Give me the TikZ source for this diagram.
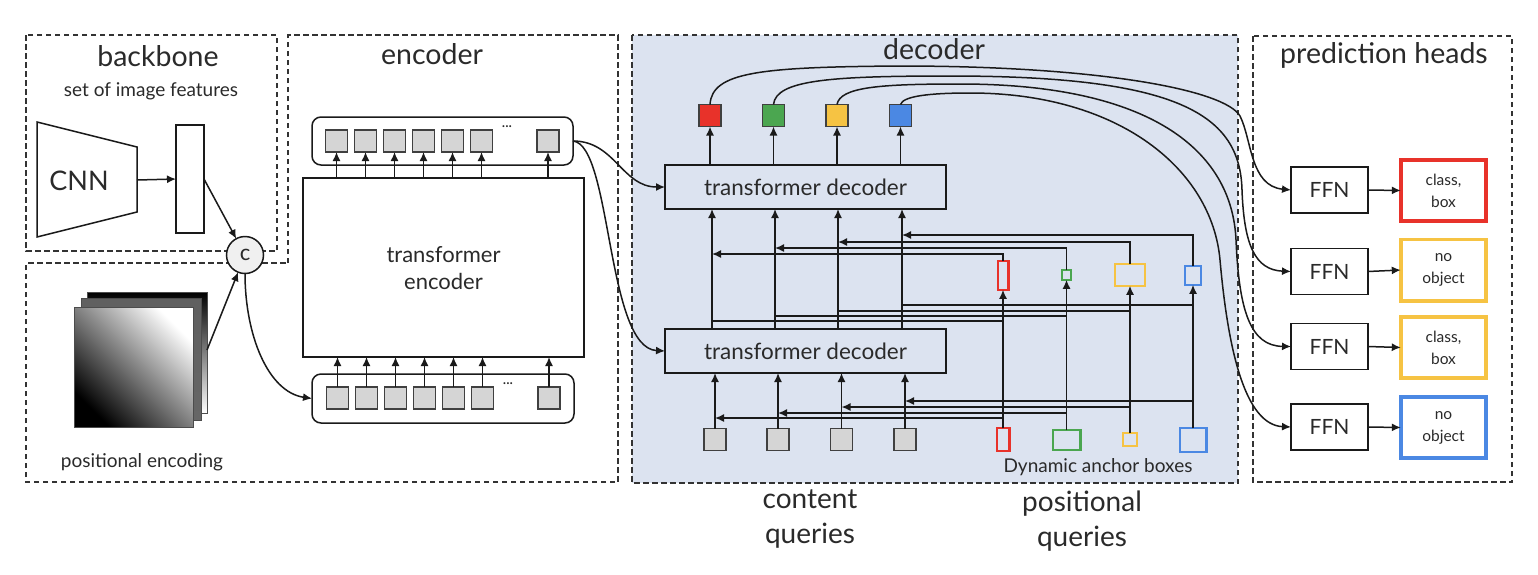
\documentclass[tikz,border=0pt]{standalone}
\usepackage{fontspec}
\setmainfont{Lato}
\usetikzlibrary{arrows.meta,calc}
\definecolor{txt}{HTML}{2A2A2A}
\definecolor{dashc}{HTML}{333333}
\definecolor{decfill}{HTML}{DCE3F0}
\definecolor{qred}{HTML}{E8322A}
\definecolor{qgreen}{HTML}{4BA650}
\definecolor{qyellow}{HTML}{F6C343}
\definecolor{qblue}{HTML}{4B88E3}
\definecolor{tokgray}{HTML}{D5D5D5}
\definecolor{linec}{HTML}{1A1A1A}
\newcommand{\myfs}[1]{\fontsize{#1}{#1}\selectfont}
\begin{document}
\begin{tikzpicture}[x=1pt,y=-1pt,
  every node/.style={text=txt, inner sep=0pt, outer sep=0pt},
  region/.style={draw=dashc, line width=1.4pt, dash pattern=on 5.5pt off 3.5pt},
  ln/.style={draw=linec, line width=1.5pt},
  arr/.style={ln, -{Latex[length=9pt,width=8pt]}},
  box/.style={draw=linec, line width=1.5pt, rectangle},
  tok/.style={draw=black!75, line width=1.2pt, fill=tokgray, minimum width=22pt, minimum height=22pt},
  anc/.style={line width=2.4pt, rectangle},
  head/.style={font=\myfs{28.5}, anchor=base},
  outb/.style={draw, line width=3.6pt, rectangle, minimum width=85.4pt, minimum height=61.4pt, align=center, font=\fontsize{15.5}{22}\selectfont},
  ffn/.style={box, minimum width=77pt, minimum height=46pt, font=\myfs{21}},
  stk/.style={draw=black!70, line width=0.8pt},
]
\useasboundingbox (0,0) rectangle (1538,574);
\fill[white] (0,0) rectangle (1538,574);

% ---------- regions ----------
\draw[region] (26,35) rectangle (277,251);
\draw[region] (288,263) -- (288,35) -- (618,35) -- (618,482) -- (26,482) -- (26,263) -- cycle;
\draw[region, fill=decfill] (632,35) rectangle (1238,483);
\draw[region] (1253,36) rectangle (1512,482);

% ---------- titles ----------
\node[head] (tbb) at (158,66.7) {backbone};
\node[font=\myfs{19}, anchor=base] (tset) at (151,96.7) {set of image features};
\node[head] (tenc) at (432,64) {encoder};
\node[head] (tdec) at (934,59) {decoder};
\node[head] (tph) at (1384,63) {prediction heads};

% ---------- backbone ----------
\draw[ln] (37,122) -- (137,147) -- (137,212) -- (37,237) -- cycle;
\node[font=\myfs{27}, anchor=base] (cnn) at (79,190) {CNN};
\coordinate (cnnR) at (137,180);
\node[box, minimum width=28pt, minimum height=108pt] (feat) at (190,179) {};
\draw[arr] (cnnR) -- (feat.west);
\node[circle, draw=linec, line width=1.5pt, fill=gray!12, minimum size=37pt, font=\myfs{22}] (cc) at (245,255) {c};
\draw[arr] (feat.east) -- (cc);

% ---------- positional encoding ----------
\draw[stk, top color=black, bottom color=white] (87,292) rectangle (207,413);
\draw[stk, top color=gray!75!black, bottom color=black!60] (81,298) rectangle (201,420);
\draw[stk, top color=white, bottom color=black, shading angle=-45] (74,307) rectangle (193,427);
\coordinate (peR) at (207,350);
\draw[arr] (peR) -- (cc);
\node[font=\myfs{19}, anchor=base] (tpe) at (142,467) {positional encoding};

% ---------- encoder ----------
\node[draw=linec, line width=1.5pt, rounded corners=9pt, minimum width=261pt, minimum height=48pt] (bankT) at (442.5,141) {};
\node[draw=linec, line width=1.5pt, rounded corners=9pt, minimum width=262pt, minimum height=49pt] (bankB) at (443,398.5) {};
\foreach \i/\x in {1/336.5,2/365.5,3/394.5,4/423.5,5/452.5,6/481.5,7/548} {
  \node[tok] (tT\i) at (\x,141) {};
  \node[tok] (tB\i) at (\x+1,398) {};
}
\node[font=\myfs{13}] (dT) at (507,128) {···};
\node[font=\myfs{13}] (dB) at (508,385) {···};
\node[box, minimum width=281pt, minimum height=179pt] (enc) at (443.5,267.5) {};
\node[font=\myfs{22}, anchor=base] (tenc1) at (443.5,262) {transformer};
\node[font=\myfs{22}, anchor=base] (tenc2) at (443.5,289) {encoder};
\foreach \i in {1,...,7} {
  \draw[arr] (tT\i |- enc.north) -- (tT\i.south);
  \draw[arr] (tB\i.north) -- (tB\i |- enc.south);
}
\draw[arr] (cc.south) .. controls (245,335) and (268,392) .. (bankB.west);

% ---------- decoder ----------
\node[box, minimum width=281pt, minimum height=44pt, font=\myfs{22.5}] (dec1) at (805.5,187) {transformer decoder};
\node[box, minimum width=281pt, minimum height=44pt, font=\myfs{22.5}] (dec2) at (805.5,351) {transformer decoder};
\draw[arr] (bankT.east) .. controls (615,141) and (622,187) .. (dec1.west);
\draw[arr] (bankT.east) .. controls (612,145) and (606,348) .. (dec2.west);

\foreach \i/\x/\c in {1/710/qred,2/773.5/qgreen,3/837/qyellow,4/900.5/qblue} {
  \node[tok, fill=\c] (o\i) at (\x,115.5) {};
  \draw[arr] (o\i |- dec1.north) -- (o\i.south);
}
\foreach \i/\x in {1/715,2/778,3/841.5,4/905} {
  \node[tok] (q\i) at (\x,439.5) {};
  \draw[arr] (q\i.north) -- (q\i |- dec2.south);
}
\foreach \i/\x in {1/712,2/775,3/838,4/902} {
  \coordinate (u\i) at (\x,0);
  \draw[arr] (u\i |- dec2.north) -- (u\i |- dec1.south);
}

% anchors
\node[anc, draw=qred, minimum width=10.6pt, minimum height=28.6pt] (a1) at (1003,275.5) {};
\node[anc, draw=qgreen, minimum width=8.6pt, minimum height=9.6pt] (a2) at (1066.5,275) {};
\node[anc, draw=qyellow, minimum width=29.6pt, minimum height=21.6pt] (a3) at (1130,275) {};
\node[anc, draw=qblue, minimum width=15.6pt, minimum height=18.6pt] (a4) at (1193,275.5) {};
\node[anc, draw=qred, minimum width=12.6pt, minimum height=22.6pt] (b1) at (1003,439.5) {};
\node[anc, draw=qgreen, minimum width=27.6pt, minimum height=19.6pt] (b2) at (1066.5,440) {};
\node[anc, draw=qyellow, minimum width=13.6pt, minimum height=12.6pt] (b3) at (1130,439.5) {};
\node[anc, draw=qblue, minimum width=26.6pt, minimum height=23.6pt] (b4) at (1193,440) {};

\coordinate (lj1) at (715,418);
\coordinate (lj2) at (778,413);
\coordinate (lj3) at (841.5,407);
\coordinate (lj4) at (905,401);
\coordinate (mj1) at (712,321);
\coordinate (mj2) at (775,316);
\coordinate (mj3) at (838,311);
\coordinate (mj4) at (902,305);
\coordinate (uj1) at (712,254);
\coordinate (uj2) at (775,248);
\coordinate (uj3) at (838,242);
\coordinate (uj4) at (902,235);
\foreach \i in {1,...,4} {
  \draw[arr] (b\i.north) -- (a\i.south);
  \draw[arr] (b\i.north) |- (lj\i);
  \draw[ln] (mj\i) -- (b\i |- mj\i);
  \draw[arr] (a\i.north) |- (uj\i);
}
\node[font=\myfs{19}, anchor=base] (tdab) at (1098,472.7) {Dynamic anchor boxes};

% ---------- prediction heads ----------
\node[ffn] (f1) at (1329.5,190) {FFN};
\node[ffn] (f2) at (1329.5,271.5) {FFN};
\node[ffn] (f3) at (1329.5,346.5) {FFN};
\node[ffn] (f4) at (1329.5,427) {FFN};
\node[outb, draw=qred] (r1) at (1443.5,190.5) {class,\\box};
\node[outb, draw=qyellow] (r2) at (1443.5,270) {no\\object};
\node[outb, draw=qyellow] (r3) at (1443.5,347.5) {class,\\box};
\node[outb, draw=qblue] (r4) at (1443.5,427.5) {no\\object};
\foreach \i in {1,...,4} \draw[arr] (f\i.east) -- (r\i.west);

\draw[arr] (o1.north) .. controls (712,72) and (760,67) .. (900,66) .. controls (1100,66) and (1225,90) .. (1240,116) .. controls (1252,140) and (1250,186) .. (f1.west);
\draw[arr] (o2.north) .. controls (776,80) and (830,76) .. (950,76) .. controls (1180,76) and (1240,115) .. (1242,190) .. controls (1244,245) and (1255,270) .. (f2.west);
\draw[arr] (o3.north) .. controls (840,87) and (880,84) .. (960,84) .. controls (1150,84) and (1232,150) .. (1236,240) .. controls (1239,310) and (1250,346) .. (f3.west);
\draw[arr] (o4.north) .. controls (903,96) and (930,93) .. (970,93) .. controls (1120,93) and (1212,170) .. (1220,260) .. controls (1228,350) and (1245,425) .. (f4.west);

% ---------- bottom labels ----------
\node[font=\myfs{28}, anchor=base] (lc1) at (810,508) {content};
\node[font=\myfs{28}, anchor=base] (lc2) at (810,543) {queries};
\node[font=\myfs{28}, anchor=base] (lp1) at (1082,511.7) {positional};
\node[font=\myfs{28}, anchor=base] (lp2) at (1082,546) {queries};
\end{tikzpicture}
\end{document}
